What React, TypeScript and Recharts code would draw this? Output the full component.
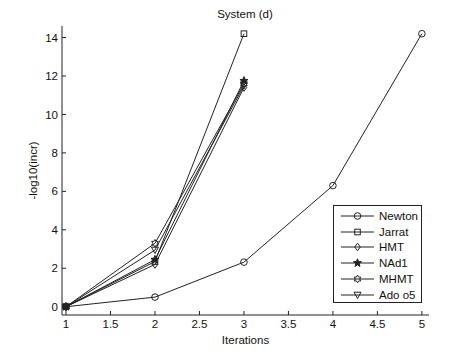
import React from "react";
import { LineChart, Line, XAxis, YAxis } from "recharts";

const iterations = [1, 2, 3, 4, 5];
const xTicks = [1, 1.5, 2, 2.5, 3, 3.5, 4, 4.5, 5];
const yTicks = [0, 2, 4, 6, 8, 10, 12, 14];

const newton = [0, 0.5, 2.32, 6.3, 14.2];
const jarrat = [0, 2.35, 14.2];
const hmt = [0, 2.2, 11.4];
const nad1 = [0, 2.45, 11.75];
const mhmt = [0, 3.3, 11.6];
const adoO5 = [0, 2.95, 11.5];

const seriesNames = ["Newton", "Jarrat", "HMT", "NAd1", "MHMT", "Ado o5"];
const seriesValues = [newton, jarrat, hmt, nad1, mhmt, adoO5];
const markers = ["circle", "square", "diamond", "star", "hexagram", "triangle"];

const INK = "#222";
const FONT = "'Liberation Sans', Arial, sans-serif";

function starPath(cx: number, cy: number, ro: number, ri: number, n: number) {
  let d = "";
  for (let i = 0; i < n * 2; i++) {
    const r = i % 2 === 0 ? ro : ri;
    const a = -Math.PI / 2 + (i * Math.PI) / n;
    d += (i === 0 ? "M" : "L") + (cx + r * Math.cos(a)).toFixed(2) + "," + (cy + r * Math.sin(a)).toFixed(2);
  }
  return d + "Z";
}

function Marker({ kind, cx, cy }: { kind: string; cx: number; cy: number }) {
  const common = { stroke: INK, strokeWidth: 1, fill: "none" };
  switch (kind) {
    case "circle":
      return <circle cx={cx} cy={cy} r={3.3} {...common} />;
    case "square":
      return <rect x={cx - 2.8} y={cy - 2.8} width={5.6} height={5.6} {...common} />;
    case "diamond":
      return <path d={`M${cx},${cy - 3.8}L${cx + 2.8},${cy}L${cx},${cy + 3.8}L${cx - 2.8},${cy}Z`} {...common} />;
    case "star":
      return <path d={starPath(cx, cy, 4.2, 1.8, 5)} {...common} fill={INK} />;
    case "hexagram":
      return <path d={starPath(cx, cy, 3.8, 2.2, 6)} {...common} />;
    default:
      return <path d={`M${cx - 3.5},${cy - 2.8}L${cx + 3.5},${cy - 2.8}L${cx},${cy + 3.5}Z`} {...common} />;
  }
}

const LegendBox = () => (
  <div
    style={{
      position: "absolute",
      left: 333,
      top: 205,
      border: `1px solid ${INK}`,
      background: "#fff",
      width: 89,
      height: 98,
      boxSizing: "border-box",
      padding: "2px 0 0 0",
      fontFamily: FONT,
      fontSize: 11.5,
      color: "#111",
    }}
  >
    {seriesNames.map((name, i) => (
      <div key={name} style={{ display: "flex", alignItems: "center", height: 15.8 }}>
        <svg width={44} height={12} style={{ marginLeft: 6 }}>
          <line x1={1} y1={6} x2={34} y2={6} stroke={INK} strokeWidth={1} />
          <Marker kind={markers[i]} cx={17.5} cy={6} />
        </svg>
        <span style={{ marginLeft: -5 }}>{name}</span>
      </div>
    ))}
  </div>
);

export default function App() {
  return (
    <div style={{ position: "fixed", left: 0, top: 0, width: 474, height: 355, background: "#fff" }}>
      <LineChart width={474} height={355} margin={{ top: 26, right: 45, bottom: 0, left: 0 }}>
        <XAxis
          type="number"
          dataKey="x"
          domain={[0.955, 5.08]}
          ticks={xTicks}
          allowDataOverflow
          stroke={INK}
          tickSize={-4}
          tickMargin={9}
          tick={{ fill: "#111", fontSize: 11.5, fontFamily: FONT }}
          height={40}
          label={{ value: "Iterations", position: "insideBottom", offset: 11, fill: "#111", fontSize: 11.5, fontFamily: FONT }}
        />
        <YAxis
          type="number"
          dataKey="y"
          domain={[-0.43, 14.6]}
          ticks={yTicks}
          allowDataOverflow
          stroke={INK}
          tickSize={-4}
          tickMargin={8}
          width={62}
          tick={{ fill: "#111", fontSize: 11.5, fontFamily: FONT }}
          label={{ value: "-log10(incr)", angle: -90, position: "insideLeft", offset: 33, fill: "#111", fontSize: 11.5, fontFamily: FONT, style: { textAnchor: "middle" } }}
        />
        {seriesNames.map((name, i) => (
          <Line
            key={name}
            name={name}
            data={seriesValues[i].map((v, j) => ({ x: iterations[j], y: v }))}
            dataKey="y"
            stroke={INK}
            strokeWidth={1}
            isAnimationActive={false}
            dot={(p: any) => <Marker key={`${name}-${p.index}`} kind={markers[i]} cx={p.cx} cy={p.cy} />}
          />
        ))}
        <text x={245} y={18} textAnchor="middle" fontSize={11.5} fontFamily={FONT} fill="#111">
          System (d)
        </text>
      </LineChart>
      <LegendBox />
    </div>
  );
}
